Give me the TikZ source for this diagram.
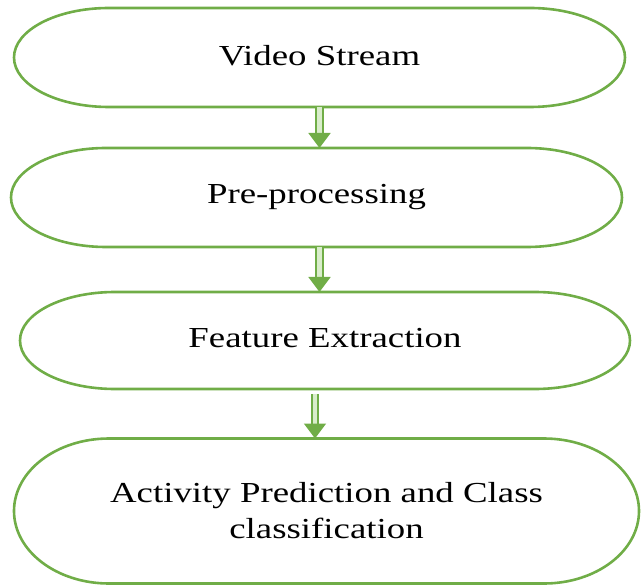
\documentclass[tikz,border=0pt]{standalone}
\usepackage{fontspec}
\setmainfont{Liberation Serif}
\usepackage{graphicx}
\usetikzlibrary{arrows.meta, positioning, calc}
\definecolor{flowgreen}{HTML}{70AD47}
\definecolor{palegreen}{HTML}{D9EDCB}
\newcommand{\widetext}[1]{\scalebox{1.27}[1]{#1}}
\tikzstyle{stagebox} = [rectangle, inner sep=0pt, outer sep=0pt, minimum width=305.5pt, minimum height=49.5pt,
  text centered, font=\fontsize{14.5}{18}\selectfont, text=black]
\tikzstyle{outline} = [draw=flowgreen, line width=1.3pt]
\tikzstyle{arrow} = [draw=flowgreen, double=palegreen, double distance=2.4pt, line width=1pt,
  -{Triangle[width=11pt, length=7.5pt]}]

\begin{document}
\begin{tikzpicture}[x=0.5pt, y=-0.5pt]
  \useasboundingbox (0,0) rectangle (641,587);
  \node (vs) [stagebox] at (319.5,57.5) {\raisebox{2.5pt}{\widetext{Video Stream}}};
  \node (pp) [stagebox] at (316.5,197.5) {\widetext{Pre-processing}};
  \node (fe) [stagebox, minimum width=305pt, minimum height=48.5pt] at (325,340.5)
    {\raisebox{2.5pt}{\widetext{Feature Extraction}}};
  \node (ap) [stagebox, minimum width=312.5pt, minimum height=72.5pt, align=center] at (326.5,511)
    {\widetext{Activity Prediction and Class}\\\widetext{classification}};

  % outlines with elliptic ends
  \foreach \n/\ry in {vs/24.75pt, pp/24.75pt, fe/24.25pt, ap/36.25pt}
    \draw[outline] ([xshift=47.5pt]\n.north west) -- ([xshift=-47.5pt]\n.north east)
      arc[start angle=90, end angle=-90, x radius=47.5pt, y radius=\ry]
      -- ([xshift=47.5pt]\n.south west)
      arc[start angle=270, end angle=90, x radius=47.5pt, y radius=\ry];

  \coordinate (gap) at ($(fe.south)+(-10,5)$);
  \draw[arrow] (vs.south) -- (vs.south |- pp.north);
  \draw[arrow] (vs.south |- pp.south) -- (vs.south |- fe.north);
  \draw[arrow] (gap) -- (gap |- ap.north);
\end{tikzpicture}
\end{document}
